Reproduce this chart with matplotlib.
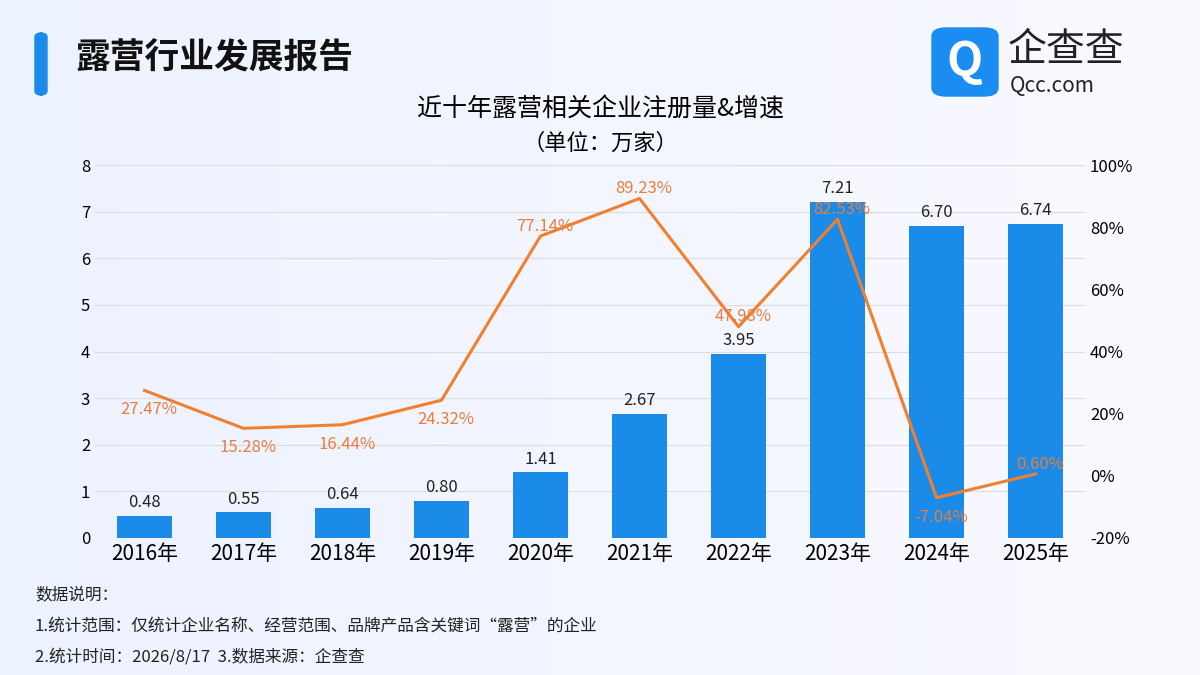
import matplotlib.pyplot as plt
import numpy as np
from matplotlib.patches import FancyBboxPatch

plt.rcParams['font.family'] = ['Noto Sans CJK SC', 'DejaVu Sans']

years = ['2016年', '2017年', '2018年', '2019年', '2020年', '2021年', '2022年', '2023年', '2024年', '2025年']
counts = [0.48, 0.55, 0.64, 0.80, 1.41, 2.67, 3.95, 7.21, 6.70, 6.74]
growth = [27.47, 15.28, 16.44, 24.32, 77.14, 89.23, 47.98, 82.53, -7.04, 0.60]
label_below = [True, True, True, True, False, False, False, False, True, False]

fig = plt.figure(figsize=(12, 6.75), dpi=100)

# soft background gradient
bg = fig.add_axes([0, 0, 1, 1], zorder=-10)
grad = np.linspace(0, 1, 256).reshape(1, -1)
bg.imshow(np.dstack([0.93 + 0.05 * grad, 0.95 + 0.03 * grad, np.ones_like(grad)]),
          aspect='auto', extent=[0, 1, 0, 1])
bg.axis('off')

# header
fig.patches.append(FancyBboxPatch((35 / 1200, 1 - 95 / 675), 12 / 1200, 62 / 675,
                                  boxstyle='round,pad=0,rounding_size=0.006',
                                  transform=fig.transFigure, color='#1a8be8'))
fig.text(75 / 1200, 1 - 58 / 675, '露营行业发展报告', fontsize=25, fontweight='bold',
         va='center', color='#111111')
fig.patches.append(FancyBboxPatch((932 / 1200, 1 - 96 / 675), 66 / 1200, 68 / 675,
                                  boxstyle='round,pad=0,rounding_size=0.012',
                                  transform=fig.transFigure, color='#1b8cf2'))
fig.text(965 / 1200, 1 - 62 / 675, 'Q', fontsize=34, fontweight='bold', color='white',
         ha='center', va='center')
fig.text(1008 / 1200, 1 - 50 / 675, '企查查', fontsize=28, color='#222222', va='center')
fig.text(1010 / 1200, 1 - 86 / 675, 'Qcc.com', fontsize=15, color='#222222', va='center')

fig.text(0.5, 1 - 110 / 675, '近十年露营相关企业注册量&增速', fontsize=18, ha='center', va='center')
fig.text(0.5, 1 - 143 / 675, '（单位：万家）', fontsize=16, ha='center', va='center')

ax = fig.add_axes([95 / 1200, 1 - 538 / 675, 990 / 1200, 373 / 675])
ax.patch.set_alpha(0)
x = np.arange(len(years))
ax.bar(x, counts, width=0.55, color='#1a8be8', zorder=2)
for xi, v in zip(x, counts):
    ax.text(xi, v + 0.1, f'{v:.2f}', ha='center', va='bottom', fontsize=12, color='#222222')
ax.set_ylim(0, 8)
ax.set_xlim(-0.5, len(years) - 0.5)
ax.set_xticks(x)
ax.set_xticklabels(years, fontsize=15)
ax.tick_params(axis='y', labelsize=12, length=0)
ax.tick_params(axis='x', length=0)
ax.grid(axis='y', color='#dddddd', lw=0.8, zorder=0)
for s in ax.spines.values():
    s.set_visible(False)

ax2 = ax.twinx()
ax2.plot(x, growth, color='#f08030', lw=2.2, zorder=3)
ax2.set_ylim(-20, 100)
ax2.set_yticks(range(-20, 101, 20))
ax2.set_yticklabels([f'{t}%' for t in range(-20, 101, 20)], fontsize=12)
ax2.tick_params(length=0)
for s in ax2.spines.values():
    s.set_visible(False)
for xi, g, below in zip(x, growth, label_below):
    ax2.annotate(f'{g:.2f}%', (xi, g), xytext=(3, -14 if below else 7),
                 textcoords='offset points', ha='center', va='center',
                 fontsize=12, color='#e87d3e', fontweight='medium')

fig.text(35 / 1200, 1 - 595 / 675, '数据说明：', fontsize=12, va='center', color='#222222')
fig.text(35 / 1200, 1 - 626 / 675, '1.统计范围：仅统计企业名称、经营范围、品牌产品含关键词“露营”的企业',
         fontsize=12, va='center', color='#222222')
fig.text(35 / 1200, 1 - 657 / 675, '2.统计时间：2026/8/17  3.数据来源：企查查',
         fontsize=12, va='center', color='#222222')

fig.savefig('out.png', dpi=100)
